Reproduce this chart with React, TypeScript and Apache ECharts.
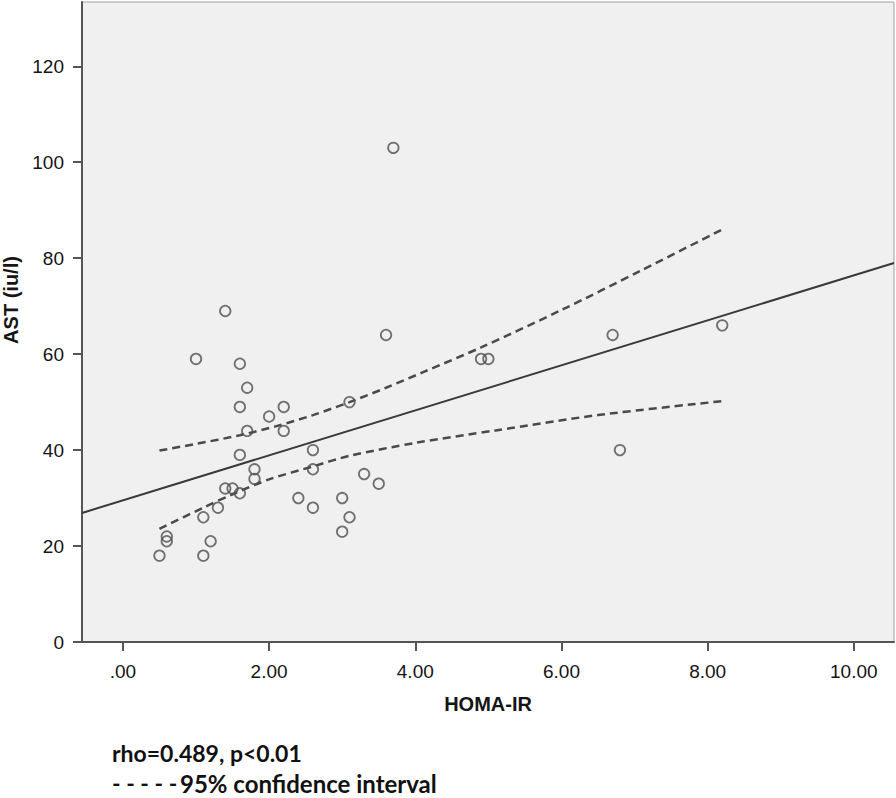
import React, { useEffect, useRef } from "react";
import * as echarts from "echarts";

// Observed points: HOMA-IR (x) vs AST (y)
const homaIR = [
  1.4, 3.6, 1.0, 1.6, 1.7, 1.6, 2.2, 2.0, 3.1, 1.7, 2.2, 1.6, 2.6, 1.8, 1.8, 2.6, 3.3, 3.5,
  1.4, 1.5, 1.6, 2.4, 3.0, 1.3, 2.6, 1.1, 3.1, 3.0, 0.6, 0.6, 1.2, 0.5, 1.1,
  3.7, 4.9, 5.0, 6.7, 8.2, 6.8,
];
const ast = [
  69, 64, 59, 58, 53, 49, 49, 47, 50, 44, 44, 39, 40, 36, 34, 36, 35, 33,
  32, 32, 31, 30, 30, 28, 28, 26, 26, 23, 22, 21, 21, 18, 18,
  103, 59, 59, 64, 66, 40,
];

// Fit line endpoints (read at the plot edges)
const fitX = [-0.56, 10.55];
const fitY = [26.9, 79.0];

// 95% confidence interval curves
const upperX = [0.5, 1.0, 1.6, 2.1, 2.6, 3.1, 3.6, 4.1, 4.9, 6.0, 7.1, 8.2];
const upperY = [39.9, 41.3, 43.1, 45.0, 47.3, 50.0, 53.0, 56.2, 61.4, 69.2, 77.5, 86.0];
const lowerX = [0.5, 1.1, 1.5, 2.0, 2.6, 3.1, 4.0, 5.1, 6.5, 8.2];
const lowerY = [23.6, 28.0, 30.8, 33.9, 36.6, 38.8, 41.5, 44.1, 47.3, 50.2];

// Axis ticks
const xTicks = [0, 2, 4, 6, 8, 10];
const yTicks = [0, 20, 40, 60, 80, 100, 120];

const xTitle = "HOMA-IR";
const yTitle = "AST (iu/l)";
const noteLine1 = "rho=0.489, p<0.01";
const noteDashes = "- - - - -";
const noteLine2 = "95% confidence interval";

const zip = (a: number[], b: number[]) => a.map((v, i) => [v, b[i]]);

export default function App() {
  const ref = useRef<HTMLDivElement>(null);
  useEffect(() => {
    document.body.style.margin = "0";
    if (!ref.current) return;
    const chart = echarts.init(ref.current, null, { renderer: "svg" });
    const labelFont = { fontFamily: "Liberation Sans", fontSize: 19, color: "#151515" };
    const axisLineStyle = { color: "#555", width: 2 };
    chart.setOption({
      animation: false,
      grid: {
        show: true,
        left: 82,
        right: 2,
        top: 2,
        bottom: 156,
        outerBoundsMode: "none",
        containLabel: false,
        backgroundColor: "#f0f0f0",
        borderColor: "#a0a0a0",
        borderWidth: 1,
      },
      xAxis: {
        type: "value",
        min: -0.56,
        max: 10.55,
        name: xTitle,
        nameLocation: "middle",
        nameGap: 52,
        nameTextStyle: {
          fontFamily: "Liberation Sans",
          fontSize: 20,
          fontWeight: "bold",
          color: "#151515",
        },
        axisLine: { show: true, onZero: false, lineStyle: axisLineStyle },
        axisTick: { show: true, length: 9, lineStyle: axisLineStyle, customValues: xTicks },
        axisLabel: {
          ...labelFont,
          margin: 20,
          customValues: xTicks,
          formatter: (v: number) => (v === 0 ? ".00" : v.toFixed(2)),
        },
        splitLine: { show: false },
      },
      yAxis: {
        type: "value",
        min: 0,
        max: 133.4,
        name: yTitle,
        nameLocation: "middle",
        nameRotate: 90,
        nameGap: 47,
        nameTextStyle: {
          fontFamily: "Liberation Sans",
          fontSize: 20,
          fontWeight: "bold",
          color: "#151515",
          padding: [0, 0, 0, 44],
        },
        axisLine: { show: true, onZero: false, lineStyle: axisLineStyle },
        axisTick: { show: true, length: 9, lineStyle: axisLineStyle, customValues: yTicks },
        axisLabel: { ...labelFont, margin: 18, customValues: yTicks },
        splitLine: { show: false },
      },
      series: [
        {
          type: "line",
          data: zip(fitX, fitY),
          symbol: "none",
          lineStyle: { color: "#3a3a3a", width: 2 },
          clip: true,
          z: 3,
        },
        {
          type: "line",
          data: zip(upperX, upperY),
          symbol: "none",
          smooth: 0.3,
          lineStyle: { color: "#4a4a4a", width: 2.5, type: [8, 5] },
          z: 3,
        },
        {
          type: "line",
          data: zip(lowerX, lowerY),
          symbol: "none",
          smooth: 0.3,
          lineStyle: { color: "#4a4a4a", width: 2.5, type: [8, 5] },
          z: 3,
        },
        {
          type: "scatter",
          data: zip(homaIR, ast),
          symbol: "circle",
          symbolSize: 10.5,
          itemStyle: { color: "rgba(0,0,0,0)", borderColor: "#505050", borderWidth: 1.8 },
          z: 4,
        },
      ],
      graphic: [
        {
          type: "text",
          left: 112,
          top: 741,
          style: { text: noteLine1, font: "bold 23px Lato", fill: "#111" },
        },
        {
          type: "text",
          left: 112,
          top: 771,
          style: { text: noteDashes, font: "bold 23px Lato", fill: "#111" },
        },
        {
          type: "text",
          left: 180,
          top: 771,
          style: { text: noteLine2, font: "bold 24px Lato", fill: "#111" },
        },
      ],
    });
    return () => chart.dispose();
  }, []);
  return <div ref={ref} style={{ width: 896, height: 798 }} />;
}
